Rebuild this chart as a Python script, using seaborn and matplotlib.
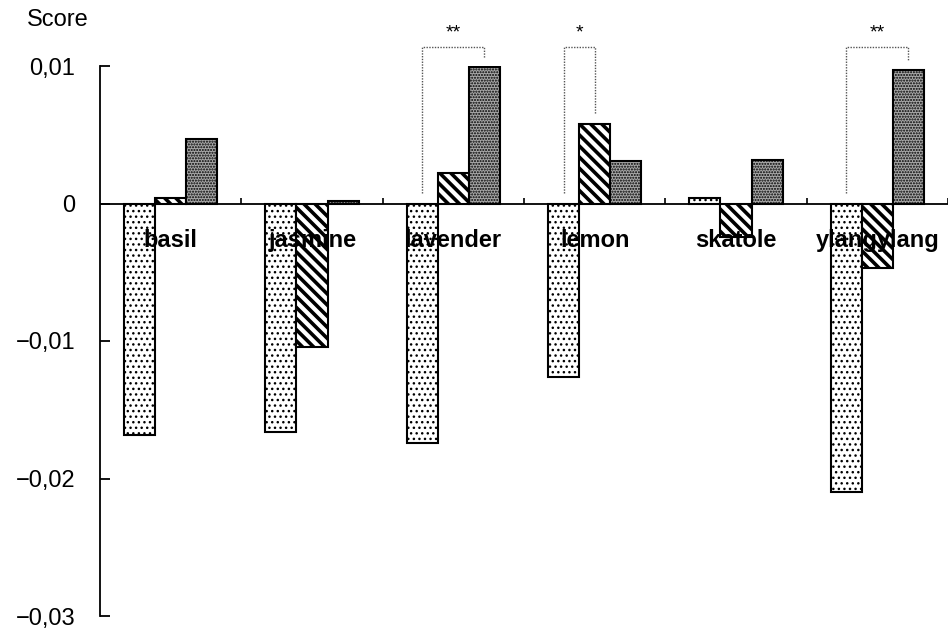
import numpy as np
import pandas as pd
import matplotlib
matplotlib.use("Agg")
import matplotlib.pyplot as plt
import seaborn as sns

categories = ["basil", "jasmine", "lavender", "lemon", "skatole", "ylangylang"]
series_names = ["series1", "series2", "series3"]
series1 = [-0.0168, -0.0166, -0.0174, -0.0126, 0.0004, -0.0210]
series2 = [0.0004, -0.0104, 0.0022, 0.0058, -0.0024, -0.0047]
series3 = [0.0047, 0.0002, 0.0099, 0.0031, 0.0032, 0.0097]
y_ticks = [0.01, 0.0, -0.01, -0.02, -0.03]
y_tick_labels = ["0,01", "0", "\u22120,01", "\u22120,02", "\u22120,03"]
# significance brackets: (category, from series index, to series index, label)
significance = [("lavender", 0, 2, "**"), ("lemon", 0, 1, "*"), ("ylangylang", 0, 2, "**")]

sns.set_theme(style="white")
plt.rcParams["font.family"] = ["Liberation Sans", "DejaVu Sans"]
plt.rcParams["hatch.color"] = "black"

df = pd.DataFrame({
    "category": categories * 3,
    "series": sum([[s] * len(categories) for s in series_names], []),
    "score": series1 + series2 + series3,
})

fig = plt.figure(figsize=(9.49, 6.33), dpi=100)
ax = fig.add_axes([100 / 949, 17 / 633, 848 / 949, 550 / 633])

sns.barplot(data=df, x="category", y="score", hue="series", order=categories,
            hue_order=series_names, width=0.66, gap=0, palette=["white", "white", "#a8a8a8"],
            edgecolor="black", linewidth=1.5, legend=False, errorbar=None, ax=ax)

styles = [("white", "..."), ("white", "\\\\\\"), ("#a8a8a8", "......")]
hatch_lw = [1.0, 2.6, 1.0]
for h, cont in enumerate(ax.containers):
    fc, hatch = styles[h]
    for rect in cont:
        rect.set_facecolor(fc)
        rect.set_hatch(hatch)
        rect.set_edgecolor("black")
        if hasattr(rect, "set_hatch_linewidth"):
            rect.set_hatch_linewidth(hatch_lw[h])

ax.set_xlim(-0.5, len(categories) - 0.5)
ax.set_ylim(-0.03, 0.01)
ax.axhline(0, color="black", lw=1.3, zorder=3)
ax.vlines([i + 0.5 for i in range(len(categories))], 0, 0.0004, color="black", lw=1.2, zorder=3)

for s in ["top", "right", "bottom"]:
    ax.spines[s].set_visible(False)
ax.spines["left"].set_color("black")
ax.spines["left"].set_linewidth(1.3)
ax.set_xticks([])
ax.set_yticks(y_ticks)
ax.set_yticklabels(y_tick_labels)
ax.yaxis.set_tick_params(which="major", direction="in", length=7, width=1.3,
                         labelsize=17, pad=18, left=True, colors="black")
ax.set_xlabel("")
ax.set_ylabel("")

for i, cat in enumerate(categories):
    ax.text(i, -0.0027, cat, ha="center", va="center", fontsize=17, fontweight="bold",
            color="black", zorder=10)

vals = [series1, series2, series3]
for cat, a, b, lab in significance:
    i = categories.index(cat)
    ra = ax.containers[a][i]
    rb = ax.containers[b][i]
    xa = ra.get_x() + ra.get_width() / 2
    xb = rb.get_x() + rb.get_width() / 2
    ya = max(vals[a][i], 0) + 0.0008
    yb = max(vals[b][i], 0) + 0.0007
    top = 0.01135
    ax.plot([xa, xa, xb, xb], [ya, top, top, yb], ls=(0, (1, 1)), color="#555555",
            lw=1.0, clip_on=False, zorder=4)
    ax.text((xa + xb) / 2, 0.0124, lab, ha="center", va="center", fontsize=14,
            color="black", clip_on=False)

fig.text(27 / 949, 1 - 20 / 633, "Score", ha="left", va="center", fontsize=17, color="black")

fig.savefig("out.png", dpi=100)
